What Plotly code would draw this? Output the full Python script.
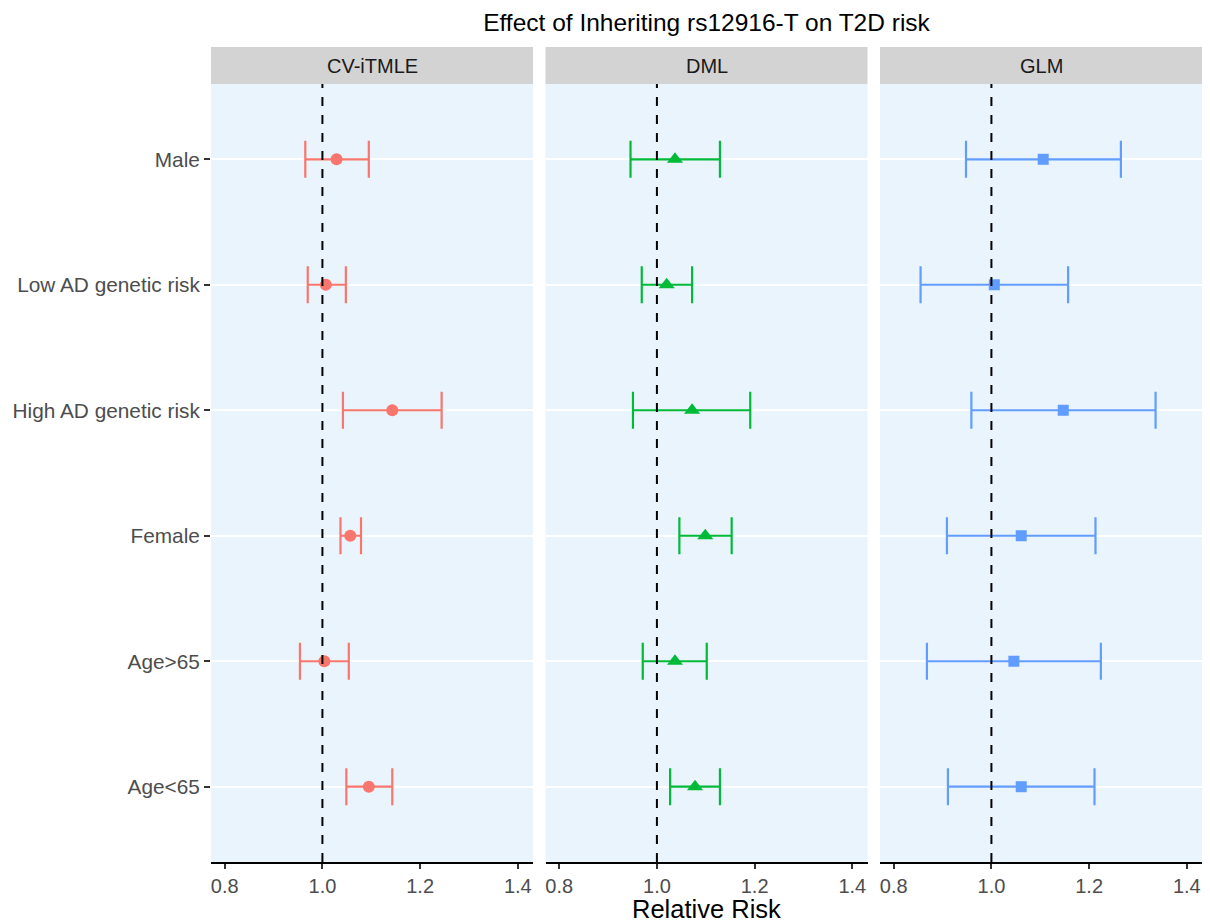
import plotly.graph_objects as go

# ---- data ----
categories = ["Male", "Low AD genetic risk", "High AD genetic risk", "Female", "Age>65", "Age<65"]
methods = ["CV-iTMLE", "DML", "GLM"]

cv_est = [1.029, 1.007, 1.143, 1.057, 1.004, 1.095]
cv_lo = [0.965, 0.970, 1.042, 1.037, 0.954, 1.049]
cv_hi = [1.095, 1.048, 1.244, 1.079, 1.054, 1.143]

dml_est = [1.037, 1.020, 1.072, 1.099, 1.037, 1.078]
dml_lo = [0.946, 0.969, 0.951, 1.046, 0.971, 1.027]
dml_hi = [1.129, 1.072, 1.191, 1.153, 1.102, 1.129]

glm_est = [1.106, 1.006, 1.147, 1.061, 1.046, 1.061]
glm_lo = [0.948, 0.855, 0.959, 0.909, 0.868, 0.911]
glm_hi = [1.265, 1.157, 1.336, 1.213, 1.224, 1.211]

x_ticks = [0.8, 1.0, 1.2, 1.4]
x_tick_text = ["0.8", "1.0", "1.2", "1.4"]
ref_value = 1.0

# ---- styling ----
colors = ["#F8766D", "#00BA38", "#619CFF"]
symbols = ["circle", "triangle-up", "square"]
msizes = [12, 14, 11]
FONT = "Liberation Sans, Arial, sans-serif"
panel_bg = "#EAF4FD"
strip_bg = "#D3D3D3"

W, H = 1210, 922
ml, mr, mt, mb = 211, 8, 84, 60
plot_w = W - ml - mr
plot_h = H - mt - mb
panel_w = 322
gap = (plot_w - 3 * panel_w) / 2
domains = []
for i in range(3):
    a = i * (panel_w + gap)
    domains.append([a / plot_w, (a + panel_w) / plot_w])

series = [(cv_est, cv_lo, cv_hi), (dml_est, dml_lo, dml_hi), (glm_est, glm_lo, glm_hi)]

fig = go.Figure()
for i, (est, lo, hi) in enumerate(series):
    suffix = "" if i == 0 else str(i + 1)
    fig.add_trace(go.Scatter(
        x=est, y=categories, mode="markers",
        xaxis="x" + suffix, yaxis="y" + suffix,
        marker=dict(color=colors[i], symbol=symbols[i], size=msizes[i], line=dict(width=0)),
        error_x=dict(type="data", symmetric=False,
                     array=[h - e for h, e in zip(hi, est)],
                     arrayminus=[e - l for e, l in zip(est, lo)],
                     color=colors[i], thickness=2.2, width=18.5),
        showlegend=False, name=methods[i],
    ))

cat_order = list(reversed(categories))
layout = dict(
    width=W, height=H,
    margin=dict(l=ml, r=mr, t=mt, b=mb),
    paper_bgcolor="white", plot_bgcolor=panel_bg,
    font=dict(family=FONT, color="#4D4D4D"),
    title=dict(text="Effect of Inheriting rs12916-T on T2D risk", x=(ml + plot_w / 2) / W, xanchor="center",
               y=1 - 22 / H, yanchor="middle", yref="container",
               font=dict(size=24.5, color="black", family=FONT)),
)
shapes = []
annotations = []
for i in range(3):
    suffix = "" if i == 0 else str(i + 1)
    layout["xaxis" + suffix] = dict(
        domain=domains[i], anchor="y" + suffix, range=[0.772, 1.431],
        tickvals=x_ticks, ticktext=x_tick_text, ticks="outside", ticklen=5, tickwidth=1.5,
        tickcolor="#333333", showline=True, linecolor="black", linewidth=1.5,
        showgrid=False, zeroline=False, tickfont=dict(size=20, color="#4D4D4D", family=FONT),
        fixedrange=True,
    )
    ydict = dict(
        domain=[0, 1], anchor="x" + suffix, type="category", categoryorder="array",
        categoryarray=cat_order, range=[-0.6, 5.6], showgrid=True, gridcolor="white",
        gridwidth=1.5, zeroline=False, showline=False, fixedrange=True,
    )
    if i == 0:
        ydict.update(ticks="outside", ticklen=6, tickwidth=1.5, tickcolor="#333333",
                     tickfont=dict(size=20.8, color="#4D4D4D", family=FONT))
    else:
        ydict.update(showticklabels=False, ticks="", matches="y")
    layout["yaxis" + suffix] = ydict
    # strip
    shapes.append(dict(type="rect", xref="x" + suffix + " domain", yref="paper",
                       x0=0, x1=1, y0=1, y1=1 + 37 / plot_h, fillcolor=strip_bg, line=dict(width=0),
                       layer="below"))
    annotations.append(dict(text=methods[i], xref="x" + suffix + " domain", yref="paper",
                            x=0.5, y=1 + 18.5 / plot_h, xanchor="center", yanchor="middle",
                            showarrow=False, font=dict(size=20, color="#1A1A1A", family=FONT)))
    # reference line
    shapes.append(dict(type="line", xref="x" + suffix, yref="y" + suffix + " domain",
                       x0=ref_value, x1=ref_value, y0=0, y1=1,
                       line=dict(color="black", width=2, dash="dash"), layer="above"))

annotations.append(dict(text="Relative Risk", xref="paper", yref="paper", x=0.5, y=-(909 - 862) / plot_h,
                        xanchor="center", yanchor="middle", showarrow=False,
                        font=dict(size=25.5, color="black", family=FONT)))
layout["shapes"] = shapes
layout["annotations"] = annotations
fig.update_layout(**layout)
fig.write_html("out.html")
